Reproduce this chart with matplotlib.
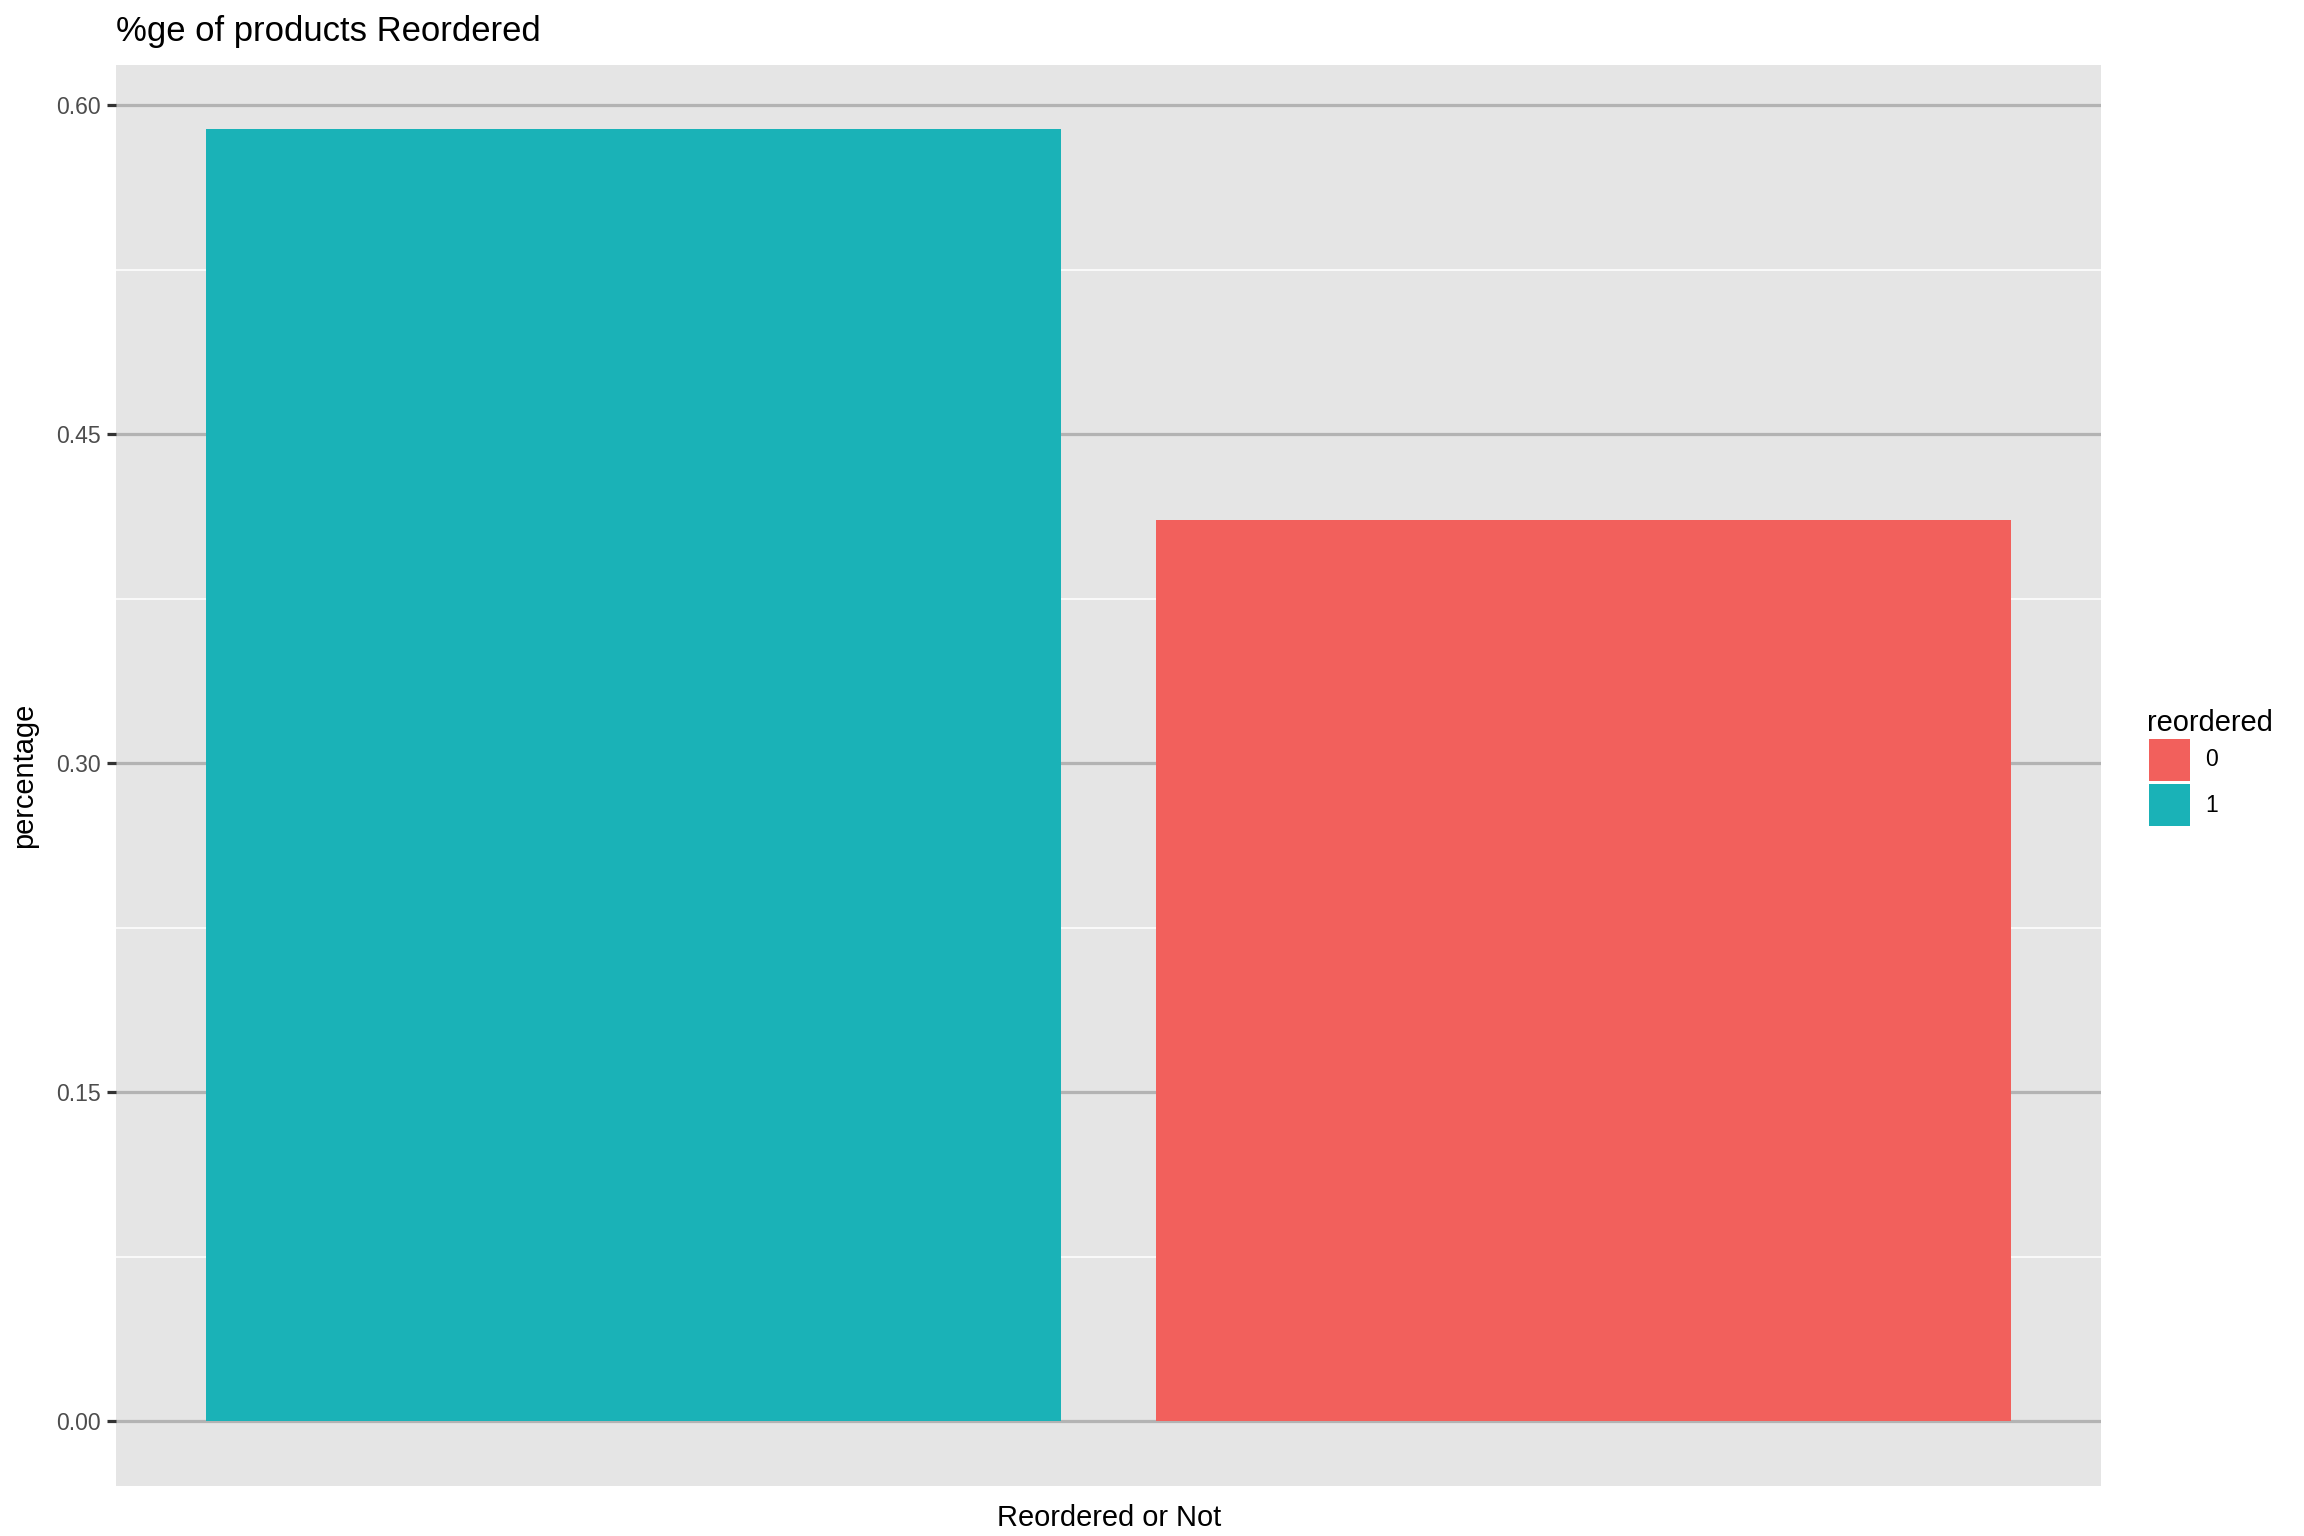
import matplotlib
matplotlib.use("Agg")
import matplotlib.pyplot as plt
from matplotlib.patches import Patch

# Data
reordered_levels = ["1", "0"]
percentages = [0.589, 0.411]
bar_positions = [1, 2]
legend_levels = ["0", "1"]
yticks = [0.00, 0.15, 0.30, 0.45, 0.60]
yminor = [0.075, 0.225, 0.375, 0.525]

level_colors = {"0": "#F2605C", "1": "#1AB2B7"}

plt.rcParams['font.family'] = ['Liberation Sans', 'DejaVu Sans']

fig = plt.figure(figsize=(16, 10.6667), dpi=144)
ax = fig.add_axes([0.0504, 0.0326, 0.8616, 0.9253])
ax.set_facecolor("#E5E5E5")

bar_cols = [level_colors[l] for l in reordered_levels]
ax.bar(bar_positions, percentages, width=0.9, color=bar_cols, zorder=3)

ymax = max(percentages)
ax.set_ylim(-0.05 * ymax, ymax * 1.05)
ax.set_xlim(0.455, 2.545)

for y in yticks:
    ax.axhline(y, color="#B3B3B3", lw=1.6, zorder=1)
for y in yminor:
    ax.axhline(y, color="white", lw=0.8, zorder=1)

ax.set_yticks(yticks)
ax.set_yticklabels([f"{v:.2f}" for v in yticks])
ax.set_xticks([])
ax.tick_params(axis='y', labelsize=11.5, labelcolor="#4D4D4D", color="#333333",
               length=4.5, width=1.6, pad=3)
for s in ax.spines.values():
    s.set_visible(False)

ax.set_xlabel("Reordered or Not", fontsize=14.5, labelpad=9)
ax.set_ylabel("percentage", fontsize=14.5, labelpad=9)
ax.set_title("%ge of products Reordered", fontsize=17.3, loc="left", pad=12)

handles = [Patch(facecolor=level_colors[l], edgecolor="white", linewidth=1.5, label=l)
           for l in legend_levels]
leg = fig.legend(handles=handles, title="reordered", loc="center left",
                 bbox_to_anchor=(0.928, 0.5), frameon=False, fontsize=11.5,
                 title_fontsize=14.5, handlelength=1.9, handleheight=2.65,
                 handletextpad=0.6, labelspacing=0.0, borderaxespad=0)
leg._legend_box.align = "left"

fig.savefig("out.png", dpi=144)
